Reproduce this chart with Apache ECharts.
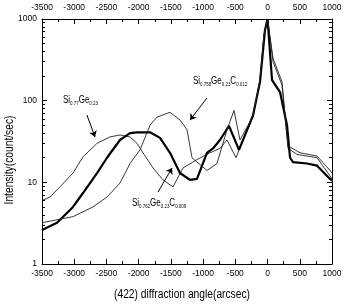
<!DOCTYPE html>
<html>
<head>
    <meta charset="utf-8">
    <title>XRD rocking curves</title>
    <script src="https://cdn.jsdelivr.net/npm/echarts@6/dist/echarts.min.js"></script>
    <style>
        html, body { margin: 0; padding: 0; background: #fff; }
    </style>
</head>
<body>
    <div id="main" style="width: 347px;height:306px;"></div>
    <script type="text/javascript">
        // x ticks (arcsec)
        var xTicks = [-3500, -3000, -2500, -2000, -1500, -1000, -500, 0, 500, 1000];
        var yMajor = [1, 10, 100, 1000];
        var yMinor = [2, 3, 4, 5, 6, 7, 8, 9, 20, 30, 40, 50, 60, 70, 80, 90, 200, 300, 400, 500, 600, 700, 800, 900];

        // Si0.77Ge0.23 (thin)
        var sigeX = [-3500, -3376, -3221, -3019, -2864, -2646, -2445, -2290, -2134, -2026, -1933, -1777, -1622, -1467,
            -1312, -1095, -893, -738, -629, -489, -381, -226, -117, -55, 0, 85, 224, 317, 457, 768, 969, 1000];
        var sigeY = [6.0, 6.6, 8.8, 13, 20.5, 30, 36, 38, 36, 30, 23, 15, 10.7, 8.8,
            15, 19, 23, 26, 33, 20, 33, 63, 180, 630, 1000, 300, 155, 26, 22, 20, 12, 11];

        // Si0.762Ge0.23C0.009 (thick)
        var c009X = [-3500, -3267, -3019, -2864, -2646, -2491, -2290, -2134, -2026, -1824, -1669, -1514, -1359, -1203,
            -1095, -940, -847, -738, -598, -443, -226, -117, -40, 0, 70, 194, 302, 349, 395, 612, 768, 969, 1000];
        var c009Y = [2.6, 3.2, 5, 7.4, 13, 20, 33, 40, 41, 41, 35, 23, 13, 10.7,
            11, 23, 26, 33, 49, 25, 66, 170, 730, 1000, 178, 127, 50, 20, 17.7, 17, 16, 11, 10.6];

        // Si0.758Ge0.23C0.012 (thin)
        var c012X = [-3500, -3019, -2709, -2491, -2290, -2134, -1979, -1824, -1715, -1514, -1359, -1250, -1172, -1095,
            -940, -785, -629, -521, -428, -302, -226, -117, -55, 0, 85, 224, 317, 504, 768, 969, 1000];
        var c012Y = [3.2, 3.8, 5, 6.6, 9.8, 17, 25, 50, 63, 72, 58, 44, 20, 17.7,
            14, 17, 44, 76, 33, 50, 66, 180, 650, 1000, 330, 170, 28, 23, 21, 14, 13];

        function pairs(xs, ys) {
            return xs.map(function (x, i) { return [x, ys[i]]; });
        }

        var font = '"Liberation Sans", Arial, sans-serif';

        var myChart = echarts.init(document.getElementById('main'));

        var xBase = {
            type: 'value', min: -3500, max: 1000, interval: 500,
            axisLine: { onZero: false, lineStyle: { color: '#000', width: 1 } },
            axisTick: { inside: true, length: 5, lineStyle: { color: '#000' } },
            minorTick: { show: true, splitNumber: 2, length: 3, lineStyle: { color: '#000' } },
            splitLine: { show: false },
            axisLabel: {
                color: '#000', fontSize: 8.5, fontFamily: font, margin: 5,
                formatter: function (v) { return String(v); }
            }
        };

        // minor log ticks are drawn on a linear axis spanning log10(1)..log10(1000)
        var minorBase = {
            type: 'value', min: 0, max: 3,
            axisLine: { show: false, onZero: false },
            axisTick: { inside: true, length: 3, customValues: yMinor.map(Math.log10), lineStyle: { color: '#000' } },
            axisLabel: { show: false },
            splitLine: { show: false }
        };

        var subRich = {
            a: { fontSize: 10, fontFamily: font, fill: '#000' },
            s: { fontSize: 5.5, fontFamily: font, fill: '#000', padding: [5, 0, 0, 0] }
        };

        var option = {
            animation: false,
            grid: { left: 42, right: 15, top: 19, bottom: 42 },
            xAxis: [
                Object.assign({}, xBase, { position: 'bottom' }),
                Object.assign({}, xBase, {
                    position: 'top',
                    axisLabel: Object.assign({}, xBase.axisLabel, { margin: 7 })
                })
            ],
            yAxis: [
                {
                    type: 'log', logBase: 10, min: 1, max: 1000, position: 'left',
                    axisLine: { show: true, onZero: false, lineStyle: { color: '#000', width: 1 } },
                    axisTick: { inside: true, length: 5, lineStyle: { color: '#000' } },
                    axisLabel: { color: '#000', fontSize: 8.5, fontFamily: font, margin: 5,
                        formatter: function (v) { return String(v); } },
                    splitLine: { show: false }
                },
                Object.assign({}, minorBase, { position: 'left' }),
                {
                    type: 'log', logBase: 10, min: 1, max: 1000, position: 'right',
                    axisLine: { show: true, onZero: false, lineStyle: { color: '#000', width: 1 } },
                    axisTick: { inside: true, length: 5, lineStyle: { color: '#000' } },
                    axisLabel: { show: false },
                    splitLine: { show: false }
                },
                Object.assign({}, minorBase, { position: 'right' })
            ],
            series: [
                {
                    name: 'Si0.77Ge0.23', type: 'line', showSymbol: false, symbol: 'none',
                    data: pairs(sigeX, sigeY),
                    lineStyle: { color: '#222', width: 0.9 },
                    markLine: {
                        silent: true, symbol: ['none', 'arrow'], symbolSize: 6, label: { show: false },
                        lineStyle: { color: '#000', width: 1, type: 'solid' },
                        data: [[{ coord: [-2802, 66.7] }, { coord: [-2677, 35.8] }]]
                    }
                },
                {
                    name: 'Si0.762Ge0.23C0.009', type: 'line', showSymbol: false, symbol: 'none',
                    data: pairs(c009X, c009Y),
                    lineStyle: { color: '#000', width: 2.2 },
                    markLine: {
                        silent: true, symbol: ['none', 'arrow'], symbolSize: 6, label: { show: false },
                        lineStyle: { color: '#000', width: 1, type: 'solid' },
                        data: [[{ coord: [-1700, 7.6] }, { coord: [-1482, 15] }]]
                    }
                },
                {
                    name: 'Si0.758Ge0.23C0.012', type: 'line', showSymbol: false, symbol: 'none',
                    data: pairs(c012X, c012Y),
                    lineStyle: { color: '#222', width: 0.9 },
                    markLine: {
                        silent: true, symbol: ['none', 'arrow'], symbolSize: 6, label: { show: false },
                        lineStyle: { color: '#000', width: 1, type: 'solid' },
                        data: [[{ coord: [-939, 108] }, { coord: [-1203, 58] }]]
                    }
                }
            ],
            graphic: [
                // axis titles (narrowed to match the condensed original font)
                {
                    type: 'text', x: 182, y: 295, scaleX: 0.82,
                    style: {
                        text: '(422) diffraction angle(arcsec)', align: 'center', verticalAlign: 'middle',
                        fontSize: 12.5, fontFamily: font, fill: '#000'
                    }
                },
                {
                    type: 'text', x: 10, y: 160, rotation: Math.PI / 2, scaleX: 0.82,
                    style: {
                        text: 'Intensity(count/sec)', align: 'center', verticalAlign: 'middle',
                        fontSize: 12.5, fontFamily: font, fill: '#000'
                    }
                },
                // sample labels
                {
                    type: 'text', x: 63, y: 95, scaleX: 0.8,
                    style: { text: '{a|Si}{s|0.77}{a|Ge}{s|0.23}', rich: subRich }
                },
                {
                    type: 'text', x: 193, y: 76, scaleX: 0.8,
                    style: { text: '{a|Si}{s|0.758}{a|Ge}{s|0.23}{a|C}{s|0.012}', rich: subRich }
                },
                {
                    type: 'text', x: 132, y: 198, scaleX: 0.8,
                    style: { text: '{a|Si}{s|0.762}{a|Ge}{s|0.23}{a|C}{s|0.009}', rich: subRich }
                }
            ]
        };

        myChart.setOption(option);
    </script>
</body>
</html>
